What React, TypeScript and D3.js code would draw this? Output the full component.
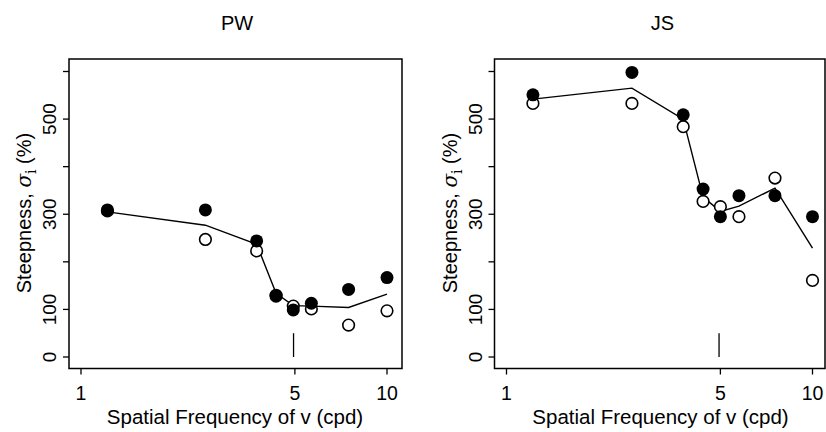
import React from "react";
import * as d3 from "d3";

const panelTitles = ["PW", "JS"];
const xTickValues = [1, 5, 10];
const yTickValues = [0, 100, 200, 300, 400, 500, 600];
const yTickLabels = [0, 100, 300, 500];

const freqPW = [1.22, 2.55, 3.75, 4.34, 4.94, 5.66, 7.49, 10.0];
const pwFilled = [309, 309, 244, 130, 99, 113, 142, 167];
const pwOpen = [307, 247, 223, 128, 107, 101, 67, 97];
const pwFit = [305, 277, 237, 134, 108, 107, 104, 132];

const freqJS = [1.22, 2.57, 3.78, 4.39, 5.0, 5.75, 7.54, 10.0];
const jsFilled = [551, 598, 509, 353, 295, 339, 339, 295];
const jsOpen = [533, 533, 484, 327, 316, 295, 376, 161];
const jsFit = [542, 565, 500, 336, 306, 317, 355, 229];

const markerFreq = 4.95;
const markerRange = [0, 50];

const FONT = "'Liberation Sans', Arial, Helvetica, sans-serif";

type PanelProps = {
  dx: number;
  title: string;
  freq: number[];
  filled: number[];
  open: number[];
  fit: number[];
  boxRight: number;
};

function Panel({ dx, title, freq, filled, open, fit, boxRight }: PanelProps) {
  const x = d3.scaleLog().domain([1, 10]).range([81 + dx, 387 + dx]);
  const y = d3.scaleLinear().domain([0, 600]).range([357, 71.5]);
  const boxL = 69 + dx;
  const boxT = 59;
  const boxB = 368.5;
  const line = d3
    .line<number>()
    .x((_, i) => x(freq[i]))
    .y((d) => y(d));
  return (
    <g>
      <text x={x(Math.sqrt(10)) + 3} y={30} fontSize={20} textAnchor="middle" fontFamily={FONT}>
        {title}
      </text>
      <rect x={boxL} y={boxT} width={boxRight - boxL} height={boxB - boxT} fill="none" stroke="#000" strokeWidth={1.5} />
      {yTickValues.map((v) => (
        <line key={"yt" + v} x1={boxL} x2={boxL - 6} y1={y(v)} y2={y(v)} stroke="#000" strokeWidth={1.3} />
      ))}
      {yTickLabels.map((v) => (
        <text
          key={"yl" + v}
          transform={`translate(${56 + dx},${y(v)}) rotate(-90)`}
          fontSize={19}
          textAnchor="middle"
          fontFamily={FONT}
        >
          {v}
        </text>
      ))}
      {xTickValues.map((v) => (
        <g key={"xt" + v}>
          <line x1={x(v)} x2={x(v)} y1={boxB} y2={boxB + 6} stroke="#000" strokeWidth={1.3} />
          <text x={x(v)} y={400} fontSize={19.5} textAnchor="middle" fontFamily={FONT}>
            {v}
          </text>
        </g>
      ))}
      <text x={x(Math.sqrt(10)) + 1} y={423.5} fontSize={20.5} textAnchor="middle" fontFamily={FONT}>
        Spatial Frequency of v (cpd)
      </text>
      <text
        transform={`translate(${31 + dx},${213}) rotate(-90)`}
        fontSize={20}
        textAnchor="middle"
        fontFamily={FONT}
      >
        Steepness,{"  "}
        <tspan fontFamily="'DejaVu Serif', serif" fontStyle="italic">σ</tspan>
        <tspan fontFamily="'DejaVu Serif', serif" fontSize={14} dy={5}>i</tspan>
        <tspan dy={-5}> (%)</tspan>
      </text>
      <line
        x1={x(markerFreq)}
        x2={x(markerFreq)}
        y1={y(markerRange[0])}
        y2={y(markerRange[1])}
        stroke="#000"
        strokeWidth={1.3}
      />
      <path d={line(fit) || ""} fill="none" stroke="#000" strokeWidth={1.4} />
      {open.map((v, i) => (
        <circle key={"o" + i} cx={x(freq[i])} cy={y(v)} r={5.8} fill="#fff" stroke="#000" strokeWidth={1.6} />
      ))}
      {filled.map((v, i) => (
        <circle key={"f" + i} cx={x(freq[i])} cy={y(v)} r={6.5} fill="#000" />
      ))}
    </g>
  );
}

export default function App() {
  return (
    <svg
      width={826}
      height={432}
      style={{ position: "absolute", left: 0, top: 0, background: "#fff" }}
    >
      <rect x={0} y={0} width={826} height={432} fill="#fff" />
      <Panel dx={0} title={panelTitles[0]} freq={freqPW} filled={pwFilled} open={pwOpen} fit={pwFit} boxRight={402} />
      <Panel dx={425.5} title={panelTitles[1]} freq={freqJS} filled={jsFilled} open={jsOpen} fit={jsFit} boxRight={825} />
    </svg>
  );
}
